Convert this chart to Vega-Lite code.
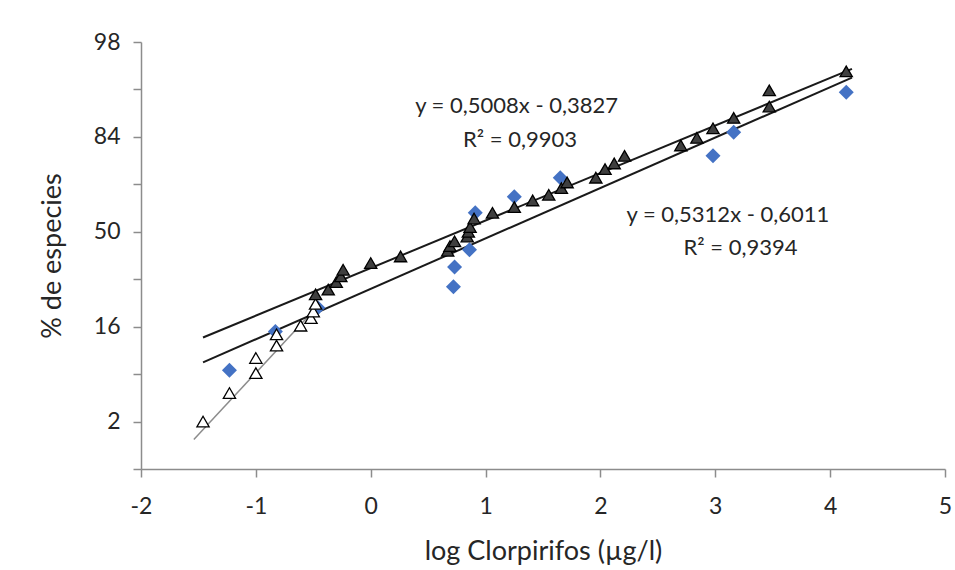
{
  "$schema": "https://vega.github.io/schema/vega-lite/v6.json",
  "width": 804,
  "height": 427,
  "autosize": "none",
  "padding": {"left": 141, "top": 42, "right": 10, "bottom": 101},
  "background": "white",
  "config": {
    "view": {"stroke": null},
    "font": "Lato",
    "axis": {
      "grid": false,
      "domainColor": "#8c8c8c",
      "domainWidth": 1.5,
      "tickColor": "#8c8c8c",
      "tickWidth": 1.5,
      "tickSize": 8,
      "labelFont": "Lato",
      "labelFontSize": 23,
      "labelColor": "#262626",
      "titleFont": "Lato",
      "titleFontSize": 27,
      "titleFontWeight": "normal",
      "titleColor": "#262626"
    }
  },
  "datasets": {
    "puntos": [
      {"grupo": "azul", "x": -1.23, "y": -1.46},
      {"grupo": "azul", "x": -0.83, "y": -1.05},
      {"grupo": "azul", "x": -0.46, "y": -0.80},
      {"grupo": "azul", "x": 0.72, "y": -0.58},
      {"grupo": "azul", "x": 0.73, "y": -0.37},
      {"grupo": "azul", "x": 0.86, "y": -0.19},
      {"grupo": "azul", "x": 0.91, "y": 0.20},
      {"grupo": "azul", "x": 1.25, "y": 0.37},
      {"grupo": "azul", "x": 1.65, "y": 0.57},
      {"grupo": "azul", "x": 2.98, "y": 0.80},
      {"grupo": "azul", "x": 3.16, "y": 1.05},
      {"grupo": "azul", "x": 4.14, "y": 1.47},
      {"grupo": "blanco", "x": -1.46, "y": -2.0},
      {"grupo": "blanco", "x": -1.23, "y": -1.70},
      {"grupo": "blanco", "x": -1.0, "y": -1.49},
      {"grupo": "blanco", "x": -1.0, "y": -1.33},
      {"grupo": "blanco", "x": -0.82, "y": -1.20},
      {"grupo": "blanco", "x": -0.82, "y": -1.08},
      {"grupo": "blanco", "x": -0.61, "y": -0.99},
      {"grupo": "blanco", "x": -0.52, "y": -0.91},
      {"grupo": "blanco", "x": -0.50, "y": -0.84},
      {"grupo": "blanco", "x": -0.48, "y": -0.76},
      {"grupo": "negro", "x": -0.48, "y": -0.66},
      {"grupo": "negro", "x": -0.37, "y": -0.61},
      {"grupo": "negro", "x": -0.30, "y": -0.53},
      {"grupo": "negro", "x": -0.26, "y": -0.47},
      {"grupo": "negro", "x": -0.24, "y": -0.40},
      {"grupo": "negro", "x": 0.0, "y": -0.33},
      {"grupo": "negro", "x": 0.26, "y": -0.26},
      {"grupo": "negro", "x": 0.67, "y": -0.20},
      {"grupo": "negro", "x": 0.69, "y": -0.15},
      {"grupo": "negro", "x": 0.73, "y": -0.10},
      {"grupo": "negro", "x": 0.84, "y": -0.05},
      {"grupo": "negro", "x": 0.85, "y": 0.0},
      {"grupo": "negro", "x": 0.865, "y": 0.05},
      {"grupo": "negro", "x": 0.90, "y": 0.14},
      {"grupo": "negro", "x": 1.06, "y": 0.20},
      {"grupo": "negro", "x": 1.25, "y": 0.26},
      {"grupo": "negro", "x": 1.41, "y": 0.33},
      {"grupo": "negro", "x": 1.55, "y": 0.39},
      {"grupo": "negro", "x": 1.66, "y": 0.46},
      {"grupo": "negro", "x": 1.71, "y": 0.52},
      {"grupo": "negro", "x": 1.96, "y": 0.57},
      {"grupo": "negro", "x": 2.04, "y": 0.66},
      {"grupo": "negro", "x": 2.12, "y": 0.72},
      {"grupo": "negro", "x": 2.21, "y": 0.80},
      {"grupo": "negro", "x": 2.70, "y": 0.91},
      {"grupo": "negro", "x": 2.84, "y": 0.99},
      {"grupo": "negro", "x": 2.98, "y": 1.09},
      {"grupo": "negro", "x": 3.16, "y": 1.20},
      {"grupo": "negro", "x": 3.47, "y": 1.32},
      {"grupo": "negro", "x": 3.47, "y": 1.49},
      {"grupo": "negro", "x": 4.14, "y": 1.69}
    ],
    "rectas": [
      {"serie": "negro", "x": -1.46, "y": -1.114},
      {"serie": "negro", "x": 4.19, "y": 1.716},
      {"serie": "azul", "x": -1.46, "y": -1.377},
      {"serie": "azul", "x": 4.19, "y": 1.625}
    ],
    "gris": [
      {"x": -1.54, "y": -2.19},
      {"x": -0.45, "y": -0.77}
    ],
    "textos": [
      {"x": 1.27, "y": 1.252, "label": "y = 0,5008x - 0,3827"},
      {"x": 1.30, "y": 0.894, "label": "R² = 0,9903"},
      {"x": 3.11, "y": 0.103, "label": "y = 0,5312x - 0,6011"},
      {"x": 3.22, "y": -0.244, "label": "R² = 0,9394"}
    ]
  },
  "encoding": {
    "x": {
      "field": "x",
      "type": "quantitative",
      "scale": {"domain": [-2, 5], "nice": false, "zero": false},
      "axis": {
        "values": [-2, -1, 0, 1, 2, 3, 4, 5],
        "labelExpr": "datum.value < 0 ? '-' + abs(datum.value) : '' + datum.value",
        "labelFlush": false,
        "labelPadding": 18,
        "title": "log Clorpirifos (µg/l)",
        "titlePadding": 20
      }
    },
    "y": {
      "field": "y",
      "type": "quantitative",
      "scale": {"domain": [-2.5, 2], "nice": false, "zero": false},
      "axis": {
        "values": [-2.5, -2, -1.5, -1, -0.5, 0, 0.5, 1, 1.5, 2],
        "labelExpr": "datum.value == 2 ? '98' : datum.value == 1 ? '84' : datum.value == 0 ? '50' : datum.value == -1 ? '16' : datum.value == -2 ? '2' : ''",
        "labelOverlap": false,
        "labelPadding": 13,
        "title": "% de especies",
        "titlePadding": 27
      }
    }
  },
  "layer": [
    {
      "data": {"name": "gris"},
      "mark": {"type": "line", "color": "#8c8c8c", "strokeWidth": 1.5},
      "encoding": {}
    },
    {
      "data": {"name": "rectas"},
      "mark": {"type": "line", "color": "#1a1a1a", "strokeWidth": 2},
      "encoding": {"detail": {"field": "serie"}}
    },
    {
      "data": {"name": "puntos"},
      "transform": [{"filter": "datum.grupo == 'azul'"}],
      "mark": {"type": "point", "shape": "diamond", "filled": true, "color": "#4472C4", "size": 225, "opacity": 1}
    },
    {
      "data": {"name": "puntos"},
      "transform": [{"filter": "datum.grupo == 'blanco'"}],
      "mark": {"type": "point", "shape": "triangle-up", "filled": true, "fill": "white", "stroke": "#000000", "strokeWidth": 1.3, "size": 150, "opacity": 1}
    },
    {
      "data": {"name": "puntos"},
      "transform": [{"filter": "datum.grupo == 'negro'"}],
      "mark": {"type": "point", "shape": "triangle-up", "filled": true, "fill": "#3f3f3f", "stroke": "#000000", "strokeWidth": 1.3, "size": 150, "opacity": 1}
    },
    {
      "data": {"name": "textos"},
      "mark": {"type": "text", "align": "center", "baseline": "alphabetic", "fontSize": 22, "font": "Lato", "color": "#262626"},
      "encoding": {"text": {"field": "label"}}
    }
  ]
}
